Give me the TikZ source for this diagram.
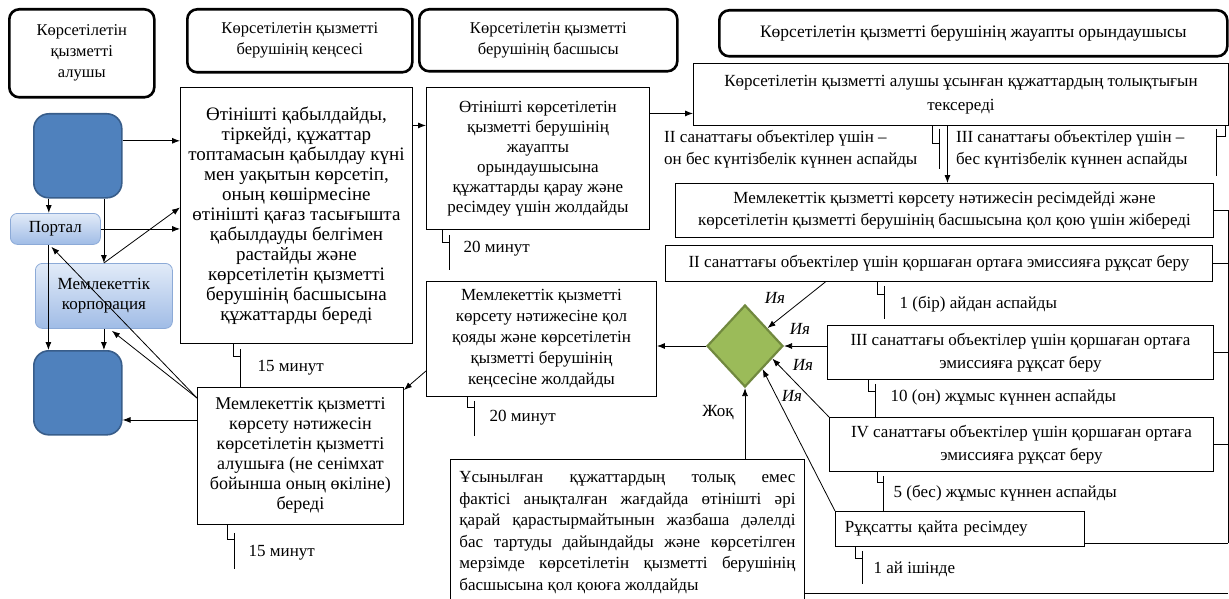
\documentclass[tikz,border=0pt]{standalone}
\usepackage{fontspec}
\setmainfont{Liberation Serif}
\usepackage{xcolor}
\usetikzlibrary{positioning, shapes.geometric, arrows.meta, calc}
\definecolor{blockblue}{RGB}{79,129,189}
\definecolor{blockedge}{RGB}{56,93,138}
\definecolor{paletop}{RGB}{226,235,248}
\definecolor{palebot}{RGB}{160,188,230}
\definecolor{paleedge}{RGB}{140,170,215}
\definecolor{choice}{RGB}{155,187,89}
\definecolor{choiceedge}{RGB}{113,137,63}

\tikzset{
  lane/.style={draw, line width=2.6pt, rounded corners=10pt, align=center, anchor=north west, inner sep=2pt, font={\fontsize{16.5}{21}\selectfont}},
  stepbox/.style={draw, line width=0.9pt, align=center, anchor=north west, inner sep=2pt},
  bluebox/.style={draw=blockedge, line width=1.6pt, fill=blockblue, rounded corners=15pt, anchor=north west, minimum width=88pt, minimum height=84pt},
  palebox/.style={draw=paleedge, line width=0.8pt, top color=paletop, bottom color=palebot, rounded corners=7pt, align=center, anchor=north west},
  flow/.style={-{Latex[length=8pt,width=6pt]}, line width=0.8pt},
  note/.style={anchor=west, inner sep=0pt},
  hook/.style={line width=0.8pt}
}

\begin{document}
\begin{tikzpicture}[x=1pt, y=-1pt, font={\fontsize{17}{20}\selectfont}]
\useasboundingbox (0,0) rectangle (1229,599);

% lanes
\node[lane, minimum width=145pt, minimum height=88pt] (recipient) at (8,8) {Көрсетілетін\\қызметті\\алушы};
\node[lane, minimum width=225pt, minimum height=63pt] (office) at (186,8) {Көрсетілетін қызметті\\берушінің кеңсесі};
\node[lane, minimum width=258pt, minimum height=62pt] (chief) at (418,8) {Көрсетілетін қызметті\\берушінің басшысы};
\node[lane, minimum width=508pt, minimum height=46pt, font={\fontsize{17.5}{21}\selectfont}] (executor) at (718,9) {Көрсетілетін қызметті берушінің жауапты орындаушысы};

% recipient side
\node[bluebox] (userTop) at (33,113) {};
\node[palebox, minimum width=90pt, minimum height=31pt] (portal) at (10,213) {Портал};
\node[palebox, minimum width=137pt, minimum height=65pt] (corp) at (35,263) {Мемлекеттік\\корпорация};
\node[bluebox] (userBot) at (33,350) {};

% steps
\node[stepbox, minimum width=232pt, minimum height=256pt, font={\fontsize{19}{20}\selectfont}] (accept) at (180,87) {Өтінішті қабылдайды,\\тіркейді, құжаттар\\топтамасын қабылдау күні\\мен уақытын көрсетіп,\\оның көшірмесіне\\өтінішті қағаз тасығышта\\қабылдауды белгімен\\растайды және\\көрсетілетін қызметті\\берушінің басшысына\\құжаттарды береді};
\node[stepbox, minimum width=223pt, minimum height=142pt] (forward) at (426,87) {Өтінішті көрсетілетін\\қызметті берушінің\\жауапты\\орындаушысына\\құжаттарды қарау және\\ресімдеу үшін жолдайды};
\node[stepbox, minimum width=535pt, minimum height=62pt, font={\fontsize{17}{24}\selectfont}] (check) at (693,63) {Көрсетілетін қызметті алушы ұсынған құжаттардың толықтығын\\тексереді};
\node[note, align=left, font={\fontsize{17}{22}\selectfont}] (termII) at (664,149) {II санаттағы объектілер үшін –\\он бес күнтізбелік күннен аспайды};
\node[note, align=left, font={\fontsize{17}{22}\selectfont}] (termIII) at (956,149) {III санаттағы объектілер үшін –\\бес күнтізбелік күннен аспайды};
\node[stepbox, minimum width=538pt, minimum height=54pt, font={\fontsize{17}{22}\selectfont}] (draft) at (675,183) {Мемлекеттік қызметті көрсету нәтижесін ресімдейді және\\көрсетілетін қызметті берушінің басшысына қол қою үшін жібереді};
\node[stepbox, minimum width=547pt, minimum height=36pt] (catII) at (665,245) {II санаттағы объектілер үшін қоршаған ортаға эмиссияға рұқсат беру};
\node[stepbox, minimum width=386pt, minimum height=54pt, font={\fontsize{17}{23}\selectfont}] (catIII) at (827,325) {III санаттағы объектілер үшін қоршаған ортаға\\эмиссияға рұқсат беру};
\node[stepbox, minimum width=384pt, minimum height=54pt, font={\fontsize{17}{23}\selectfont}] (catIV) at (829,417) {IV санаттағы объектілер үшін қоршаған ортаға\\эмиссияға рұқсат беру};
\node[stepbox, minimum width=249pt, minimum height=35pt, text width=230pt, align=left] (reissue) at (835,511) {Рұқсатты қайта ресімдеу};
\node[stepbox, minimum width=230pt, minimum height=115pt, font={\fontsize{17}{21}\selectfont}] (sign) at (426,281) {Мемлекеттік қызметті\\көрсету нәтижесіне қол\\қояды және көрсетілетін\\қызметті берушінің\\кеңсесіне жолдайды};
\node[stepbox, minimum width=206pt, minimum height=137pt, font={\fontsize{18}{20}\selectfont}] (issue) at (197,387) {Мемлекеттік қызметті\\көрсету нәтижесін\\көрсетілетін қызметті\\алушыға (не сенімхат\\бойынша оның өкіліне)\\береді};
\node[draw=choiceedge, line width=2.2pt, fill=choice, diamond, minimum width=76pt, minimum height=82pt, inner sep=0pt] (decide) at (745,346) {};
\node[stepbox, text width=336pt, align=justify, inner xsep=9pt, inner ysep=6pt, minimum height=146pt, font={\fontsize{17}{21.5}\selectfont}] (refuse) at (450,459) {\hyphenpenalty10000\relax Ұсынылған құжаттардың толық емес\linebreak фактісі анықталған жағдайда өтінішті әрі\linebreak қарай қарастырмайтынын жазбаша дәлелді\linebreak бас тартуды дайындайды және көрсетілген\linebreak мерзімде көрсетілетін қызметті берушінің\linebreak басшысына қол қоюға жолдайды};

% connectors on the left
\path ([yshift=15pt]userTop.east) coordinate (a1);
\draw[flow] (a1) -- (a1 -| accept.west);
\path ([xshift=-29pt]userTop.south) coordinate (a2);
\draw[flow] (a2) -- (a2 |- portal.north);
\draw[flow] (userTop.south -| corp.north) -- (corp.north);
\draw[flow] (portal.east) -- (portal.east -| accept.west);
\draw[flow] (corp.north) -- ([yshift=8pt]accept.west);
\path ([xshift=-7pt]portal.south) coordinate (a6);
\draw[flow] (a6) -- (a6 |- userBot.north);
\draw[flow] (corp.south) -- (corp.south |- userBot.north);
\path ([yshift=-11pt]issue.north west) coordinate (a8);
\draw[flow] (a8) -- ([xshift=-4pt,yshift=-2pt]portal.south);
\draw[flow] (a8) -- ([xshift=8pt,yshift=-2pt]corp.south);
\path ([yshift=36pt]issue.west) coordinate (a10);
\draw[flow] (a10) -- (a10 -| userBot.east);

% main flow
\path ([yshift=90pt]accept.east) coordinate (b1);
\draw[flow] (b1) -- (b1 -| forward.west);
\path ([yshift=45pt]forward.east) coordinate (b2);
\draw[flow] (b2) -- (b2 -| check.west);
\path ([xshift=-13.5pt]check.south) coordinate (b3);
\draw[flow] (b3) -- (b3 |- draft.north);
\draw[flow] (decide.west) -- (decide.west -| sign.east);
\draw[flow] ([yshift=-32pt]sign.west) -- ([yshift=-3pt]issue.north east);

% into the decision
\draw[flow] ([xshift=-113.5pt]catII.south) -- ($(decide.north east)!0.15!(decide.east)$);
\draw[flow] (catIII.west |- decide.east) -- (decide.east);
\draw[flow] (catIV.north west) -- ($(decide.east)!0.3!(decide.south)$);
\draw[flow] (reissue.north west) -- ($(decide.east)!0.55!(decide.south)$);
\draw[flow] (decide.south |- refuse.north) -- (decide.south);
\node (yes1) at (775,298) {\itshape Ия};
\node (yes2) at (800,329) {\itshape Ия};
\node (yes3) at (803,365) {\itshape Ия};
\node (yes4) at (792,396) {\itshape Ия};
\node (no1) at (718,413) {Жоқ};

% time notes
\draw[hook] ([xshift=-63pt]accept.south) coordinate (h1) -- ++(0,12) -- ++(7,0);
\draw[hook] ($(h1)+(7,5)$) -- ($(h1)+(7,44)$);
\node[note] (m1) at ($(h1)+(24,24)$) {15 минут};
\draw[hook] ([xshift=-95.5pt]forward.south) coordinate (h2) -- ++(0,12) -- ++(7,0);
\draw[hook] ($(h2)+(7,5)$) -- ($(h2)+(7,40)$);
\node[note] (m2) at ($(h2)+(21,19)$) {20 минут};
\draw[hook] ([xshift=-74pt]sign.south) coordinate (h3) -- ++(0,10) -- ++(7,0);
\draw[hook] ($(h3)+(7,4)$) -- ($(h3)+(7,39)$);
\node[note] (m3) at ($(h3)+(22,21)$) {20 минут};
\draw[hook] ([xshift=-73pt]issue.south) coordinate (h4) -- ++(0,14) -- ++(7,0);
\draw[hook] ($(h4)+(7,8)$) -- ($(h4)+(7,44)$);
\node[note] (m4) at ($(h4)+(21,28)$) {15 минут};
\draw[hook] ([xshift=-61.5pt]catII.south) coordinate (h5) -- ++(0,12) -- ++(7,0);
\draw[hook] ($(h5)+(7,4)$) -- ($(h5)+(7,37)$);
\node[note] (m5) at ($(h5)+(22,22)$) {1 (бір) айдан аспайды};
\draw[hook] ([xshift=-152pt]catIII.south) coordinate (h6) -- ++(0,11) -- ++(7,0);
\draw[hook] ($(h6)+(7,4)$) -- ($(h6)+(7,38)$);
\node[note] (m6) at ($(h6)+(22,18)$) {10 (он) жұмыс күннен аспайды};
\draw[hook] ([xshift=-144pt]catIV.south) coordinate (h7) -- ++(0,10) -- ++(6,0);
\draw[hook] ($(h7)+(6,4)$) -- ($(h7)+(6,39)$);
\node[note] (m7) at ($(h7)+(16,21)$) {5 (бес) жұмыс күннен аспайды};
\draw[hook] ([xshift=-104.5pt]reissue.south) coordinate (h8) -- ++(0,11) -- ++(7,0);
\draw[hook] ($(h8)+(7,4)$) -- ($(h8)+(7,37)$);
\node[note] (m8) at ($(h8)+(18,22)$) {1 ай ішінде};
\draw[hook] ([xshift=-28.5pt]check.south) coordinate (h9) -- ++(0,18) -- ++(7,0);
\draw[hook] ($(h9)+(7,3)$) -- ($(h9)+(7,43)$);
\draw[hook] ([xshift=-4pt]check.south east) coordinate (h10) -- ++(0,11) -- ++(-9,0);
\draw[hook] ($(h10)+(-9,3)$) -- ($(h10)+(-9,50)$);

% right rail
\coordinate (rail) at (1228,210);
\draw[hook] (draft.east) -- (draft.east -| rail);
\draw[hook] (catII.east) -- (catII.east -| rail);
\draw[hook] (catIII.east) -- (catIII.east -| rail);
\draw[hook] (catIV.east) -- (catIV.east -| rail);
\path ([yshift=-14pt]reissue.east) coordinate (r8);
\draw[hook] (r8) -- (r8 -| rail);
\draw[hook] (draft.east -| rail) -- (r8 -| rail);
\path ([yshift=-61pt]refuse.east) coordinate (r9);
\draw[hook] (r9) -- (r9 -| rail);
\end{tikzpicture}
\end{document}
